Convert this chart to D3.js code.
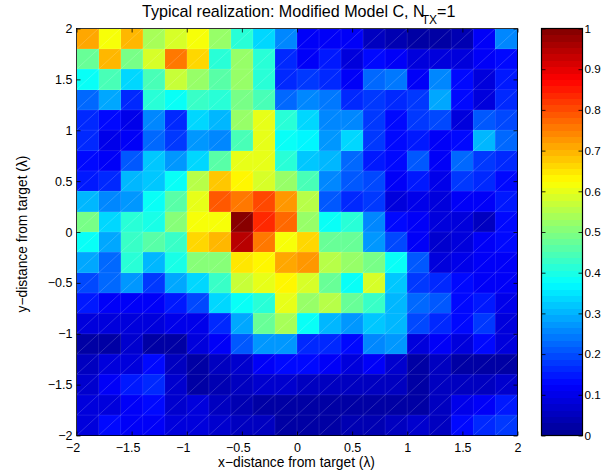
<!DOCTYPE html>
<html><head><meta charset="utf-8">
<script src="https://cdn.jsdelivr.net/npm/d3@7"></script>
<style>
html,body{margin:0;padding:0;background:#fff}
svg{display:block}
text{font-family:"Liberation Sans",Arial,sans-serif;fill:#000}
</style></head><body>
<div id="chart"></div>
<script>
const chartTitle = "Typical realization: Modified Model C, N";
const titleSub = "TX";
const titleEnd = "=1";
const xLabel = "x\u2212distance from target (\u03BB)";
const yLabel = "y\u2212distance from target (\u03BB)";
const axisTicks = [-2,-1.5,-1,-0.5,0,0.5,1,1.5,2];
const colorTicks = [0,0.1,0.2,0.3,0.4,0.5,0.6,0.7,0.8,0.9,1];
const cellEdges = d3.range(21).map(i => -2 + i*0.2);
// rows from y = 2 (top) down to y = -2 (bottom), left to right x = -2..2
const heatRows = [
[.71,.61,.70,.54,.58,.61,.52,.41,.34,.25,.12,.12,.12,.05,.04,.02,.03,.04,.12,.25],
[.47,.70,.49,.59,.75,.66,.42,.52,.41,.17,.12,.15,.09,.13,.12,.09,.08,.08,.11,.13],
[.375,.45,.34,.45,.57,.52,.46,.52,.41,.17,.18,.16,.12,.22,.24,.11,.26,.13,.09,.15],
[.22,.29,.17,.41,.375,.43,.41,.49,.44,.23,.25,.24,.16,.18,.16,.18,.29,.14,.09,.17],
[.16,.13,.10,.25,.16,.34,.31,.53,.60,.42,.34,.25,.25,.18,.14,.18,.19,.08,.21,.19],
[.16,.10,.11,.22,.18,.27,.25,.45,.60,.375,.36,.27,.34,.18,.13,.15,.11,.13,.30,.23],
[.14,.11,.21,.32,.27,.34,.46,.60,.60,.41,.32,.30,.22,.15,.14,.21,.11,.22,.18,.16],
[.15,.17,.31,.32,.375,.55,.68,.64,.59,.53,.45,.26,.21,.19,.12,.15,.10,.18,.17,.13],
[.30,.26,.27,.39,.46,.60,.79,.75,.80,.72,.55,.21,.16,.18,.09,.10,.09,.12,.12,.15],
[.49,.33,.41,.40,.51,.62,.61,.99,.83,.77,.52,.39,.41,.25,.125,.11,.08,.08,.06,.13],
[.375,.29,.43,.46,.43,.67,.69,.94,.75,.61,.66,.47,.47,.27,.20,.12,.07,.09,.11,.13],
[.29,.23,.42,.31,.40,.50,.50,.65,.63,.71,.73,.55,.52,.49,.375,.21,.09,.10,.12,.12],
[.20,.22,.27,.18,.29,.34,.43,.57,.60,.63,.58,.48,.38,.58,.32,.18,.17,.13,.12,.12],
[.15,.12,.12,.12,.15,.20,.33,.375,.41,.60,.52,.55,.47,.43,.30,.22,.21,.13,.15,.10],
[.09,.08,.08,.09,.10,.10,.17,.29,.48,.54,.375,.30,.28,.32,.31,.20,.16,.13,.18,.09],
[.03,.02,.07,.02,.03,.09,.12,.21,.28,.28,.17,.16,.13,.25,.27,.09,.11,.08,.13,.08],
[.05,.08,.09,.14,.06,.03,.05,.07,.12,.14,.14,.12,.09,.11,.07,.03,.05,.02,.03,.03],
[.07,.11,.15,.17,.07,.03,.04,.05,.07,.07,.06,.06,.06,.05,.05,.03,.05,.06,.06,.07],
[.08,.08,.11,.14,.07,.09,.05,.04,.03,.03,.03,.03,.02,.02,.03,.03,.05,.10,.12,.15],
[.09,.13,.12,.11,.08,.08,.07,.06,.06,.03,.03,.03,.04,.04,.05,.07,.06,.13,.17,.18]
];
const jetStops = ["#00008f","#0000ff","#00ffff","#ffff00","#ff0000","#800000"];
const jetPos = [0,0.125,0.375,0.625,0.875,1];
const nLevels = 64;

const W = 602, H = 474;
const plot = {l:76.5, r:517.5, t:28.5, b:435.5};
const bar = {l:541.5, r:582.5};
const svg = d3.select("#chart").append("svg").attr("width",W).attr("height",H);

const x = d3.scaleLinear().domain([-2,2]).range([plot.l,plot.r]);
const y = d3.scaleLinear().domain([-2,2]).range([plot.b,plot.t]);
const jet = d3.scaleLinear().domain(jetPos).range(jetStops).interpolate(d3.interpolateRgb).clamp(true);
const quant = v => jet((Math.min(nLevels-1,Math.floor(v*nLevels))+0.5)/nLevels);

const cells = heatRows.flatMap((row,r)=>row.map((v,c)=>({
  x0:cellEdges[c],x1:cellEdges[c+1],y1:cellEdges[20-r],y0:cellEdges[19-r],v})));

const g = svg.append("g");
g.selectAll("rect").data(cells).join("rect")
  .attr("x",d=>x(d.x0)).attr("y",d=>y(d.y1))
  .attr("width",d=>x(d.x1)-x(d.x0)).attr("height",d=>y(d.y0)-y(d.y1))
  .attr("fill",d=>quant(d.v)).attr("shape-rendering","crispEdges");

// faint facet edges and diagonals
const mesh = svg.append("g").attr("fill","none").attr("stroke","#fff");
mesh.selectAll("line.e").data(cellEdges.slice(1,-1)).join("line").attr("class","e")
  .attr("x1",d=>x(d)).attr("x2",d=>x(d)).attr("y1",plot.t).attr("y2",plot.b).attr("stroke-opacity",.1);
mesh.selectAll("line.f").data(cellEdges.slice(1,-1)).join("line").attr("class","f")
  .attr("y1",d=>y(d)).attr("y2",d=>y(d)).attr("x1",plot.l).attr("x2",plot.r).attr("stroke-opacity",.1);
mesh.selectAll("line.d").data(cells).join("line").attr("class","d")
  .attr("x1",d=>x(d.x0)).attr("y1",d=>y(d.y0)).attr("x2",d=>x(d.x1)).attr("y2",d=>y(d.y1))
  .attr("stroke-opacity",.24).attr("stroke-width",.7);

function fmt(d){return String(d).replace("-","\u2212");}
function styleAxis(sel,fs){
  sel.select(".domain").remove();
  sel.selectAll(".tick line").attr("stroke","#000").attr("stroke-width",.8);
  sel.selectAll(".tick text").attr("font-size",fs).style("font-family",'"Liberation Sans",Arial,sans-serif').attr("fill","#000");
}
const gx = svg.append("g").attr("transform",`translate(0,${plot.b})`)
  .call(d3.axisBottom(x).tickValues(axisTicks).tickFormat(fmt).tickSizeInner(-4).tickPadding(7.6));
styleAxis(gx,12.5);
gx.selectAll(".tick text").attr("dx",d=>d<0?-4:0);
const gy = svg.append("g").attr("transform",`translate(${plot.l},0)`)
  .call(d3.axisLeft(y).tickValues(axisTicks).tickFormat(fmt).tickSizeInner(-4).tickPadding(4));
styleAxis(gy,12.5);
const gxT = svg.append("g").attr("transform",`translate(0,${plot.t})`)
  .call(d3.axisTop(x).tickValues(axisTicks).tickFormat("").tickSizeInner(-4));
styleAxis(gxT,13);
const gyR = svg.append("g").attr("transform",`translate(${plot.r},0)`)
  .call(d3.axisRight(y).tickValues(axisTicks).tickFormat("").tickSizeInner(-4));
styleAxis(gyR,13);
svg.append("rect").attr("x",plot.l).attr("y",plot.t).attr("width",plot.r-plot.l).attr("height",plot.b-plot.t)
  .attr("fill","none").attr("stroke","#000").attr("stroke-width",.8);

// colour bar
const c = d3.scaleLinear().domain([0,1]).range([plot.b,plot.t]);
svg.append("g").selectAll("rect").data(d3.range(nLevels)).join("rect")
  .attr("x",bar.l).attr("width",bar.r-bar.l)
  .attr("y",d=>c((d+1)/nLevels)).attr("height",d=>c(d/nLevels)-c((d+1)/nLevels)+.5)
  .attr("fill",d=>jet((d+.5)/nLevels)).attr("shape-rendering","crispEdges");
const cbR = svg.append("g").attr("transform",`translate(${bar.r},0)`)
  .call(d3.axisRight(c).tickValues(colorTicks).tickFormat(d3.format("~g")).tickSizeInner(-4).tickPadding(2));
styleAxis(cbR,11.7);
const cbL = svg.append("g").attr("transform",`translate(${bar.l},0)`)
  .call(d3.axisLeft(c).tickValues(colorTicks).tickFormat("").tickSizeInner(-4));
styleAxis(cbL,12);
svg.append("rect").attr("x",bar.l).attr("y",plot.t).attr("width",bar.r-bar.l).attr("height",plot.b-plot.t)
  .attr("fill","none").attr("stroke","#000").attr("stroke-width",1.2);

// labels
const t = svg.append("text").attr("x",142).attr("y",17).attr("text-anchor","start").attr("font-size",16.1);
t.append("tspan").text(chartTitle);
t.append("tspan").attr("dx",-3).attr("dy",7).attr("font-size",12).text(titleSub);
t.append("tspan").attr("dy",-7).text(titleEnd);
svg.append("text").attr("x",296.5).attr("y",467).attr("text-anchor","middle").attr("font-size",13.8).text(xLabel);
svg.append("text").attr("transform",`translate(26.7,234) rotate(-90)`).attr("text-anchor","middle").attr("font-size",13.8).text(yLabel);
</script>
</body></html>
